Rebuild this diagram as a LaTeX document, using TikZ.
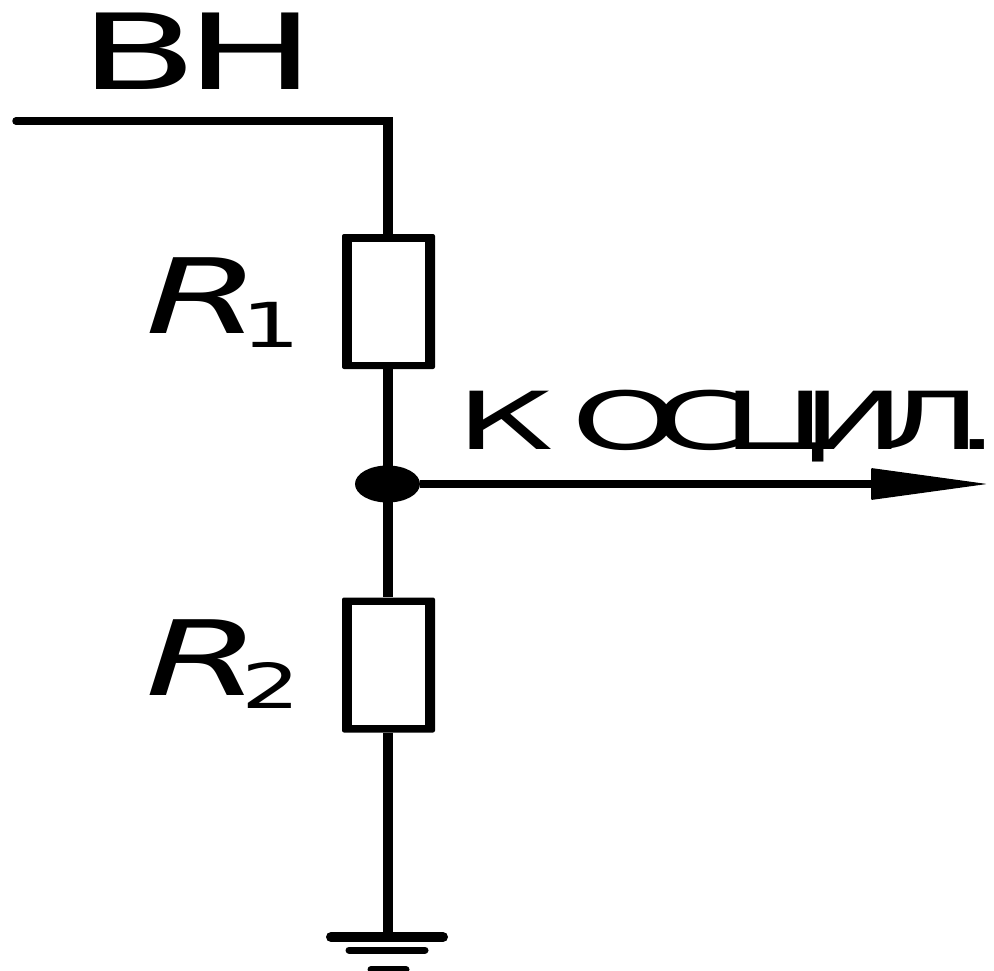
\documentclass[tikz,border=0pt]{standalone}
\usepackage{fontspec}
\usepackage{graphicx}
\setmainfont{DejaVu Sans}
\usetikzlibrary{shapes.geometric}
\tikzset{
 vwire/.style={line width=10pt,black},
 hwire/.style={line width=7.5pt,black},
 res/.style={fill=black,rounded corners=2pt,minimum width=93pt,minimum height=135pt,inner sep=0pt,
   path picture={\fill[white,sharp corners] ([xshift=10pt,yshift=7.5pt]path picture bounding box.south west) rectangle ([xshift=-10pt,yshift=-7.5pt]path picture bounding box.north east);}},
 lbl/.style={inner sep=0pt,anchor=base west},
 bar/.style={line cap=round}
}
\begin{document}
\begin{tikzpicture}[x=1pt,y=-1pt]
\useasboundingbox (0,0) rectangle (994,971);
\coordinate (start) at (16,121);
\coordinate (corner) at (388,121);
\node[res] (r1) at (388.5,301.5) {};
\node[res] (r2) at (388.5,665) {};
\node[fill=black,ellipse,minimum width=65pt,minimum height=37pt,inner sep=0pt] (j) at (387.5,484) {};
\coordinate (out) at (987,484);
\coordinate (gnd) at (388,937);
\coordinate (ah) at (872,484);
\draw[hwire,line cap=round] (start) -- (corner);
\draw[vwire] (388,117.25) -- (corner |- r1.north);
\draw[vwire] (corner |- r1.south) -- (corner |- r2.north);
\draw[vwire] (corner |- r2.south) -- (gnd);
\draw[hwire] (j) -- (ah);
\fill[rounded corners=1pt] (out) -- (871,468) -- (871,500) -- cycle;
\coordinate (g1l) at (331,937); \coordinate (g1r) at (443,937);
\coordinate (g2l) at (349,950); \coordinate (g2r) at (425,950);
\coordinate (g3l) at (371,969.5); \coordinate (g3r) at (406,969.5);
\draw[bar,line width=10pt] (g1l) -- (g1r);
\draw[bar,line width=7pt] (g2l) -- (g2r);
\draw[bar,line width=7pt] (g3l) -- (g3r);
\node[lbl] (vn) at (79,90) {\scalebox{1.65}[1]{\fontsize{105}{105}\selectfont\addfontfeature{LetterSpace=-7.5}ВН}};
\node[lbl] (rr1) at (145,333) {\scalebox{1.6}[1]{\fontsize{104}{104}\selectfont\itshape R}};
\node[lbl] (s1) at (241,347) {\scalebox{1.5}[1]{\fontsize{62}{62}\selectfont 1}};
\node[lbl] (rr2) at (145,695) {\scalebox{1.6}[1]{\fontsize{104}{104}\selectfont\itshape R}};
\node[lbl] (s2) at (241,708) {\scalebox{1.5}[1]{\fontsize{62}{62}\selectfont 2}};
\node[lbl] (osc) at (456,449) {\scalebox{1.72}[1]{\fontsize{80}{80}\selectfont\addfontfeature{LetterSpace=-19.5}К\hspace{10.5pt}ОСЦИЛ.\hspace{-8pt}}};
\end{tikzpicture}
\end{document}
